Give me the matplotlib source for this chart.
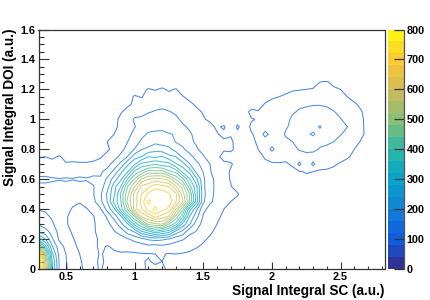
import numpy as np
import matplotlib
matplotlib.use("Agg")
import matplotlib.pyplot as plt
from matplotlib.colors import LinearSegmentedColormap, BoundaryNorm
from matplotlib.cm import ScalarMappable
from matplotlib.lines import Line2D
from matplotlib.ticker import MultipleLocator

plt.rcParams['font.family'] = ['Liberation Sans', 'DejaVu Sans']

x_bins = [0.30,0.35,0.40,0.45,0.50,0.55,0.60,0.65,0.70,0.75,0.80,0.85,0.90,0.95,1.00,1.05,1.10,1.15,1.20,1.25,
          1.30,1.35,1.40,1.45,1.50,1.55,1.60,1.65,1.70,
          1.75,1.80,1.85,1.90,1.95,2.00,2.05,2.10,2.15,2.20,2.25,2.30,2.35,2.40,2.45,2.50,2.55,2.60,2.65,2.70,2.75,2.80]
y_bins = [0,0.05,0.10,0.15,0.20,0.25,0.30,0.35,0.40,0.45,0.50,0.55,0.60,0.65,0.70,0.75,0.80,0.85,0.90,0.95,1.00,
          1.05,1.10,1.15,1.20,1.25,1.30,1.60]
counts_left = [
 [800,520,250,120,85,60,44,35,35,42,34,30,32,34,30,34,44,46,44,36,30,32,28,26,24,22,20,18,16],
 [800,500,240,118,82,58,42,34,34,44,36,34,36,34,36,38,42,36,40,38,36,34,30,28,26,24,20,18,16],
 [780,430,210,110,80,56,40,30,32,42,36,36,38,36,36,38,38,40,42,38,40,38,36,32,28,26,22,20,18],
 [480,300,165,98,70,48,34,28,32,46,38,44,46,50,56,60,68,62,70,64,58,54,48,42,36,30,26,22,18],
 [260,200,125,75,58,42,30,26,34,44,52,56,68,76,92,108,126,135,128,118,96,84,66,56,44,36,30,24,20],
 [155,135,105,68,50,36,27,28,36,50,60,78,92,140,165,236,266,310,282,258,186,148,92,78,52,44,34,28,22],
 [115,100,85,62,42,34,28,28,36,52,72,92,150,196,296,358,452,470,482,398,342,228,164,98,68,48,40,32,26],
 [95,88,75,58,42,34,30,30,38,60,84,138,190,306,398,522,564,612,582,554,428,332,200,134,76,56,44,36,28],
 [78,75,68,58,46,38,32,38,52,74,134,190,304,406,544,596,660,690,656,628,524,412,258,170,88,70,50,40,38],
 [68,66,62,56,50,44,42,52,70,108,160,250,318,454,532,618,690,665,672,662,605,528,396,264,128,84,72,52,40],
 [62,62,60,58,56,52,54,62,78,112,166,232,330,430,538,600,650,668,670,645,610,498,406,254,134,86,74,54,42],
 [76,74,72,68,70,64,66,64,78,102,142,224,282,402,478,572,590,628,614,600,530,462,338,252,128,92,70,56,42],
 [84,86,84,82,84,82,86,84,88,84,128,178,232,324,406,484,518,538,526,504,436,374,286,210,128,88,72,50,38],
 [72,70,64,62,60,62,66,60,70,74,92,132,190,240,332,368,420,410,420,370,350,270,230,150,118,82,66,54,36],
 [55,52,48,48,42,44,42,44,44,54,66,94,132,194,236,294,296,320,296,298,246,218,162,136,98,80,60,44,44],
 [37,40,36,42,34,32,34,28,34,36,52,66,90,122,184,200,240,232,244,210,200,152,140,100,84,60,44,34,28],
 [26,24,26,28,24,22,20,22,24,30,34,52,68,94,122,158,170,186,178,170,142,128,98,84,68,60,50,42,46],
 [18,20,18,22,18,16,16,18,16,32,40,52,56,80,98,128,136,150,144,140,118,106,86,76,60,54,46,44,44],
 [14,16,14,16,12,12,12,14,12,20,36,40,52,66,94,108,126,126,132,122,118,98,86,68,60,46,42,34,38],
 [12,12,12,12,10,10,10,12,12,16,24,38,42,56,78,96,104,112,108,106,100,86,74,60,50,46,36,44,20],
 [10,10,10,10,10,10,10,10,10,12,20,32,46,58,86,86,92,94,100,88,88,72,64,48,42,36,28,20,16],
 [8,8,8,8,8,8,8,8,8,10,14,24,38,48,58,70,78,82,84,82,74,62,54,46,38,30,22,18,14],
 [6,6,6,6,6,6,6,6,6,8,12,20,26,36,44,56,60,72,74,64,60,48,46,36,30,24,18,14,10],
 [4,4,4,4,4,4,4,4,4,5,8,14,18,26,44,38,52,54,58,50,46,42,32,28,22,16,12,10,8],
 [2,2,2,2,2,2,2,2,2,2,4,8,10,14,24,34,42,38,44,36,42,26,20,16,12,10,8,6,4],
 [1,1,1,1,1,1,1,1,1,1,2,4,6,8,12,18,22,24,24,20,18,14,10,8,6,5,4,3,2],
 [0,0,0,0,0,0,0,0,0,0,1,2,3,4,6,8,10,12,12,10,8,6,5,4,3,2,2,1,1],
 [0,0,0,0,0,0,0,0,0,0,0,0,0,0,0,0,0,0,0,0,0,0,0,0,0,0,0,0,0],
]
counts_right = [
 [14,12,10,8,6,5,4,3,3,2,2,2,2,1,1,1,0,0,0,0,0,0],
 [14,12,10,8,6,5,4,3,3,2,2,2,2,1,1,1,0,0,0,0,0,0],
 [15,12,10,8,7,6,5,4,3,3,2,2,2,2,1,1,1,0,0,0,0,0],
 [15,12,11,10,8,7,6,5,4,4,3,3,2,2,2,1,1,0,0,0,0,0],
 [16,13,11,10,9,8,7,6,5,5,4,4,3,3,2,2,1,1,0,0,0,0],
 [17,14,12,11,10,9,8,7,6,6,5,4,4,3,3,2,2,1,1,0,0,0],
 [18,15,13,12,10,10,9,8,8,7,6,6,5,4,3,3,2,2,1,1,0,0],
 [20,16,14,13,11,11,10,10,9,9,8,8,7,6,5,5,4,3,2,2,1,0],
 [22,18,16,14,13,12,12,11,10,10,9,9,8,8,7,6,5,5,3,2,1,0],
 [24,20,17,15,14,13,13,12,12,12,11,11,10,10,9,8,7,6,4,3,2,1],
 [44,18,16,16,14,14,14,14,14,14,14,14,14,14,13,12,11,10,8,6,4,2],
 [24,20,18,18,18,18,20,22,24,24,26,26,24,24,22,22,18,16,12,10,6,4],
 [30,26,22,20,20,22,22,24,26,30,34,36,34,32,30,30,28,24,20,16,12,8],
 [28,26,24,26,28,30,32,34,36,38,42,40,38,38,36,34,30,26,22,18,12,8],
 [28,28,30,32,36,38,38,38,42,90,46,90,46,44,42,38,34,30,24,20,14,8],
 [26,28,30,34,42,46,48,44,50,58,62,60,56,54,52,46,42,36,30,26,18,10],
 [30,28,32,40,48,92,54,56,66,84,94,92,76,70,66,58,50,40,36,30,20,12],
 [32,30,34,44,52,58,60,72,80,88,100,96,92,88,80,66,56,48,38,32,22,12],
 [34,32,38,46,96,62,62,84,92,100,112,126,104,98,90,82,70,56,44,34,24,14],
 [44,28,44,50,56,60,68,76,88,96,100,106,124,100,92,84,80,60,46,30,20,12],
 [28,34,38,42,50,56,62,70,86,94,98,100,98,96,90,82,66,56,44,32,20,12],
 [22,28,48,42,52,58,62,68,76,84,88,92,92,88,82,70,60,50,42,28,18,10],
 [16,20,26,30,42,50,54,60,68,74,76,78,78,76,68,60,52,44,34,22,14,8],
 [10,14,18,22,30,36,40,46,54,56,60,62,62,60,52,46,40,30,22,14,8,4],
 [6,8,10,12,16,20,26,30,36,38,40,42,50,52,46,40,30,20,12,8,4,2],
 [2,2,4,6,8,10,12,14,18,20,26,28,40,42,30,22,14,8,6,4,2,0],
 [0,0,0,2,2,4,6,6,8,10,12,14,16,16,12,8,6,4,2,0,0,0],
 [0,0,0,0,0,0,0,0,0,0,0,0,0,0,0,0,0,0,0,0,0,0],
]
bar_ticks = [0,100,200,300,400,500,600,700,800]
x_label = "Signal Integral SC (a.u.)"
y_label = "Signal Integral DOI (a.u.)"
x_ticks = [0.5,1,1.5,2,2.5]
x_tick_labels = ["0.5","1","1.5","2","2.5"]
y_ticks = [0,0.2,0.4,0.6,0.8,1,1.2,1.4,1.6]
y_tick_labels = ["0","0.2","0.4","0.6","0.8","1","1.2","1.4","1.6"]

counts = np.hstack([np.array(counts_left, float), np.array(counts_right, float)])

bird = LinearSegmentedColormap.from_list("bird", [
    (0.2082,0.1664,0.5293),(0.0592,0.3599,0.8684),(0.0780,0.5041,0.8385),(0.0232,0.6419,0.7914),
    (0.1802,0.7178,0.6425),(0.5301,0.7492,0.4662),(0.8186,0.7328,0.3499),(0.9956,0.7862,0.1968),(0.9764,0.9832,0.0539)])
band_edges = np.arange(0, 801, 40)
colors = [bird((i+0.5)/20) for i in range(20)]
line_colors = [bird(min(1.0, (i+1.5)/20)) for i in range(1, 20)]

W, H = 430, 300
fig = plt.figure(figsize=(W/100, H/100), dpi=100)
L, R, T, B = 38.5, 384.5, 29.5, 269
ax = fig.add_axes([L/W, 1-B/H, (R-L)/W, (B-T)/H])
ax.contour(np.array(x_bins), np.array(y_bins), counts,
           levels=band_edges[1:], colors=line_colors, linewidths=0.75, alpha=0.75)
ax.set_xlim(0.3, 2.82)
ax.set_ylim(0, 1.6)
ax.set_xticks(x_ticks); ax.set_xticklabels(x_tick_labels)
ax.set_yticks(y_ticks); ax.set_yticklabels(y_tick_labels)
ax.xaxis.set_minor_locator(MultipleLocator(0.1))
ax.yaxis.set_minor_locator(MultipleLocator(0.05))
fs = 7.8
ax.tick_params(axis='x', which='major', direction='in', length=5, width=0.8, color='#333333', pad=2)
ax.tick_params(axis='x', which='minor', direction='in', length=2.5, width=0.8, color='#333333')
ax.tick_params(axis='y', which='major', direction='in', length=7, width=0.8, color='#333333', pad=2)
ax.tick_params(axis='y', which='minor', direction='in', length=3.5, width=0.8, color='#333333')
for t in ax.get_xticklabels()+ax.get_yticklabels():
    t.set_fontsize(fs); t.set_fontweight('bold')
for s in ax.spines.values():
    s.set_linewidth(0.9); s.set_color('#333333')
fig.text(384/W, 1-290.5/H, x_label, ha='right', va='center', fontsize=9.8, fontweight='bold')
fig.text(10/W, 1-29/H, y_label, rotation=90, ha='center', va='top', fontsize=9.8, fontweight='bold')

cax = fig.add_axes([388/W, 1-B/H, 16/W, (B-T)/H])
sm = ScalarMappable(norm=BoundaryNorm(band_edges, 20), cmap=LinearSegmentedColormap.from_list("b20", colors, N=20))
cb = fig.colorbar(sm, cax=cax, ticks=bar_ticks, spacing='proportional', drawedges=False)
cb.outline.set_visible(False)
cax.minorticks_off()
cax.tick_params(which='both', direction='in', length=7, width=0.9, color='#333333', pad=2, labelsize=fs)
for t in cax.get_yticklabels():
    t.set_fontweight('bold')
fig.add_artist(Line2D([404/W, 404/W], [1-B/H, 1-T/H], color='#555555', lw=0.9, transform=fig.transFigure))
fig.savefig("out.png", dpi=100)
